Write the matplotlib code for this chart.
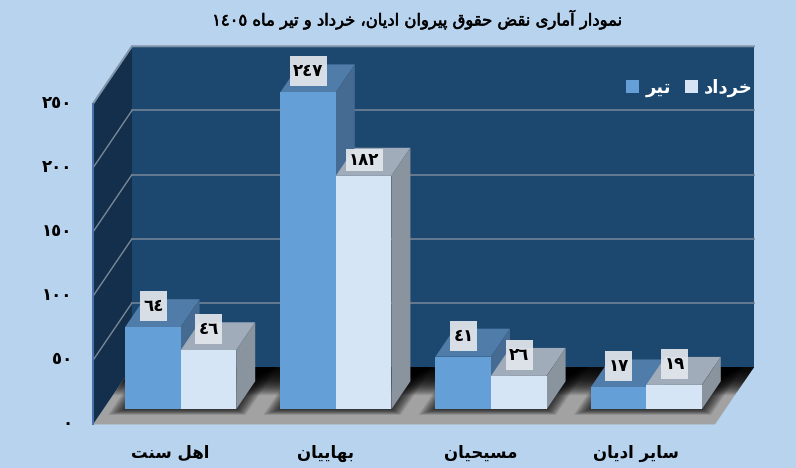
import numpy as np
import matplotlib
matplotlib.use('Agg')
from matplotlib import pyplot as plt
from matplotlib import patheffects as pe
from matplotlib.patches import Polygon, Patch, Rectangle

title = 'نمودار آماری نقض حقوق پیروان ادیان، خرداد و تیر ماه ١٤٠٥'
categories = ['اهل سنت', 'بهاییان', 'مسیحیان', 'سایر ادیان']
series_names = ['تیر', 'خرداد']
tir = [64, 247, 41, 17]
khordad = [46, 182, 26, 19]
y_ticks = [0, 50, 100, 150, 200, 250]

BG = '#b8d3ee'
PX = 1.283          # pixels per unit on the value axis
BASE = 409.3        # pixel row of value 0 on the bar fronts
DX, DY = 19, 28 / PX  # one bar depth, as x pixels and value units
FRONT, BACK = -0.54, 1.51
X0, X1 = 103.3, 725.3
BAR_W = 55.6
FIRST, STEP = 125, 155.2
FORMS = {
    'ا': (0xFE8D, 0xFE8E), 'آ': (0xFE81, 0xFE82), 'د': (0xFEA9, 0xFEAA),
    'ر': (0xFEAD, 0xFEAE), 'و': (0xFEED, 0xFEEE),
    'ب': (0xFE8F, 0xFE90, 0xFE91, 0xFE92), 'پ': (0xFB56, 0xFB57, 0xFB58, 0xFB59),
    'ت': (0xFE95, 0xFE96, 0xFE97, 0xFE98), 'ح': (0xFEA1, 0xFEA2, 0xFEA3, 0xFEA4),
    'خ': (0xFEA5, 0xFEA6, 0xFEA7, 0xFEA8), 'س': (0xFEB1, 0xFEB2, 0xFEB3, 0xFEB4),
    'ض': (0xFEBD, 0xFEBE, 0xFEBF, 0xFEC0), 'ق': (0xFED5, 0xFED6, 0xFED7, 0xFED8),
    'ل': (0xFEDD, 0xFEDE, 0xFEDF, 0xFEE0), 'م': (0xFEE1, 0xFEE2, 0xFEE3, 0xFEE4),
    'ن': (0xFEE5, 0xFEE6, 0xFEE7, 0xFEE8), 'ه': (0xFEE9, 0xFEEA, 0xFEEB, 0xFEEC),
    'ی': (0xFBFC, 0xFBFD, 0xFBFE, 0xFBFF),
}


def shape(text):
    # matplotlib has no arabic shaping, so pick the joined forms and reverse
    out = []
    for i, c in enumerate(text):
        if c not in FORMS:
            out.append(c)
            continue
        prev = text[i - 1] if i > 0 else ''
        after = text[i + 1] if i + 1 < len(text) else ''
        joins_prev = prev in FORMS and len(FORMS[prev]) == 4
        joins_next = after in FORMS and len(FORMS[c]) == 4
        f = FORMS[c]
        if joins_prev and joins_next:
            out.append(chr(f[3]))
        elif joins_next:
            out.append(chr(f[2]))
        elif joins_prev:
            out.append(chr(f[1]))
        else:
            out.append(chr(f[0]))
    # digits keep their own order inside the reversed line
    out = out[::-1]
    res, i = [], 0
    while i < len(out):
        j = i
        while j < len(out) and '٠' <= out[j] <= '٩':
            j += 1
        if j > i:
            res.extend(out[i:j][::-1])
            i = j
        else:
            res.append(out[i])
            i += 1
    return ''.join(res)


def digits(n):
    return ''.join(chr(0x0660 + int(c)) for c in str(n))


def pt(x, v, d):
    return (x + d * DX, v + d * DY)


def poly(ax, pts, color, z, **kw):
    p = Polygon(pts, closed=True, facecolor=color, edgecolor='none', zorder=z, **kw)
    ax.add_patch(p)
    return p


def bar3d(ax, x, v, front, top, side, z):
    poly(ax, [pt(x, v, 0), pt(x, v, 1), pt(x + BAR_W, v, 1), pt(x + BAR_W, v, 0)], top, z)
    poly(ax, [pt(x + BAR_W, 0, 0), pt(x + BAR_W, 0, 1), pt(x + BAR_W, v, 1), pt(x + BAR_W, v, 0)], side, z)
    poly(ax, [pt(x, 0, 0), pt(x + BAR_W, 0, 0), pt(x + BAR_W, v, 0), pt(x, v, 0)], front, z)


plt.rcParams['font.family'] = ['DejaVu Sans']
fig = plt.figure(figsize=(7.96, 4.68), dpi=100, facecolor=BG)
ax = fig.add_axes([0, 0, 1, 1])
ax.set_xlim(0, 796)
ax.set_ylim(-(468 - BASE) / PX, BASE / PX)
ax.axis('off')

# floor, walls
floor = poly(ax, [pt(X0, 0, FRONT), pt(X1, 0, FRONT), pt(X1, 0, BACK), pt(X0, 0, BACK)], '#a2a2a2', 1)
top_v = y_ticks[-1]
poly(ax, [pt(X0, 0, BACK), pt(X1, 0, BACK), pt(X1, top_v, BACK), pt(X0, top_v, BACK)], '#1c4870', 2)
poly(ax, [pt(X0, 0, FRONT), pt(X0, 0, BACK), pt(X0, top_v, BACK), pt(X0, top_v, FRONT)], '#142f4c', 3)

# soft shadow on the floor
lefts = FIRST + STEP * np.arange(len(categories))
for e in range(28):
    low = 1.45 - e * 0.035
    band = poly(ax, [pt(X0, 0, low), pt(X1 + 5, 0, low), pt(X1 + 5, 0, BACK), pt(X0, 0, BACK)],
                'black', 4, alpha=0.085)
    band.set_clip_path(floor)
    for x in lefts:
        d = -e * 0.0075
        s = poly(ax, [pt(x - e * 0.5, 0, d), pt(x + 2 * BAR_W + e * 0.5, 0, d),
                      pt(x + 2 * BAR_W + e * 0.5, 0, BACK), pt(x - e * 0.5, 0, BACK)], 'black', 4, alpha=0.035)
        s.set_clip_path(floor)

# gridlines
for v in y_ticks[1:]:
    a, b, c = pt(X0, v, FRONT), pt(X0, v, BACK), pt(X1, v, BACK)
    ax.plot([a[0], b[0]], [a[1], b[1]], color='#7d8a99', lw=1, zorder=5)
    if v < top_v:
        ax.plot([b[0], c[0]], [b[1], c[1]], color='#6f8296', lw=1.2, zorder=5)
a, b, c = pt(X0, top_v, FRONT), pt(X0, top_v, BACK), pt(X1, top_v, BACK)
ax.plot([a[0], b[0], c[0]], [a[1], b[1], c[1]], color='#7f93a8', lw=1.4, zorder=5)
a, b = pt(X0, 0, FRONT), pt(X0, top_v, FRONT)
ax.plot([a[0], b[0]], [a[1], b[1]], color='#4a72b0', lw=1.4, zorder=5)

# bars and value boxes
for i, x in enumerate(lefts):
    bar3d(ax, x, tir[i], '#659fd8', '#4f7ca8', '#456b92', 6 + i)
    bar3d(ax, x + BAR_W, khordad[i], '#d6e5f6', '#a0acba', '#8a949f', 6 + i)
    for xb, v in ((x, tir[i]), (x + BAR_W, khordad[i])):
        text = digits(v)
        w = 10 * len(text) + 7
        # the box over the second bar of the tall group is shorter in the source
        h, dy = (22, 16) if v == 182 else (30, 21)
        xc = xb + BAR_W / 2 + 0.5
        ax.add_patch(Rectangle((xc - w / 2, v + (dy - h / 2) / PX), w, h / PX, facecolor='#e2e6ec',
                               edgecolor='none', alpha=0.93, zorder=19))
        ax.text(xc, v + dy / PX, text, ha='center', va='center',
                fontsize=12, fontweight='bold', color='black', zorder=20)

# tick labels
for v in y_ticks:
    ax.text(72, pt(X0, v, FRONT)[1] + 1 / PX, digits(v), ha='right', va='center',
            fontsize=12, fontweight='bold', color='black')
for i, x in enumerate(lefts):
    ax.text(pt(x + BAR_W, 0, FRONT)[0], -43.7 / PX, shape(categories[i]), ha='center', va='center',
            fontsize=12, fontweight='bold', color='black')

ax.text(417.5, (BASE - 20) / PX, shape(title), ha='center', va='center', fontsize=11.8, color='black',
        path_effects=[pe.withStroke(linewidth=0.4, foreground='black')])

handles = [Patch(facecolor='#659fd8', label=shape(series_names[0])),
           Patch(facecolor='#d6e5f6', label=shape(series_names[1]))]
ax.legend(handles=handles, ncols=2, frameon=False, labelcolor='white',
          prop=dict(weight='bold', size=13), handlelength=0.72, handleheight=0.72,
          handletextpad=0.33, columnspacing=0.8, borderpad=0, borderaxespad=0,
          loc='center right', bbox_to_anchor=(753 / 796, 1 - 88 / 468)).set_zorder(20)

fig.savefig('out.png', dpi=100, facecolor=BG)
